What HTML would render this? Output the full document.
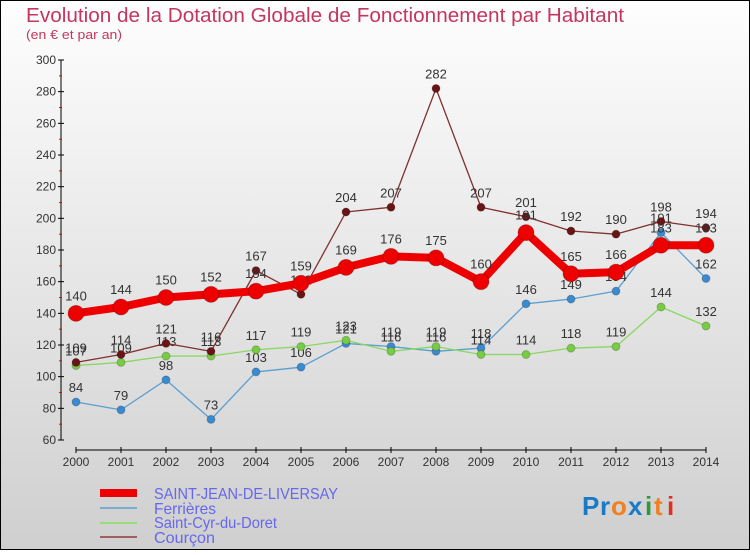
<!DOCTYPE html>
<html><head><meta charset="utf-8"><style>
html,body{margin:0;padding:0}
body{width:750px;height:550px;overflow:hidden;font-family:"Liberation Sans",sans-serif}
</style></head><body>
<svg id="c" width="750" height="550" xmlns="http://www.w3.org/2000/svg">
<defs><linearGradient id="bg" x1="0" y1="0" x2="0" y2="1"><stop offset="0" stop-color="#fefefe"/><stop offset="1" stop-color="#cfcfcf"/></linearGradient></defs>
<rect x="0.5" y="0.5" width="749" height="549" fill="url(#bg)" stroke="#000"/>
<text x="26" y="22" font-size="20" fill="#c4365e" textLength="598" lengthAdjust="spacingAndGlyphs">Evolution de la Dotation Globale de Fonctionnement par Habitant</text>
<text x="26" y="39" font-size="13" fill="#c4365e" textLength="96" lengthAdjust="spacingAndGlyphs">(en € et par an)</text>
<g id="axes"></g><g id="series"></g>
<g>
<rect x="100" y="489" width="37" height="8" fill="#e00"/>
<line x1="100" y1="508" x2="137" y2="508" stroke="#7aaed0" stroke-width="2"/>
<line x1="100" y1="523" x2="137" y2="523" stroke="#99dd77" stroke-width="2"/>
<line x1="100" y1="537" x2="137" y2="537" stroke="#a06060" stroke-width="2"/>
<g font-size="16" fill="#6666ee">
<text x="154" y="499" textLength="184" lengthAdjust="spacingAndGlyphs">SAINT-JEAN-DE-LIVERSAY</text>
<text x="154" y="514" textLength="62" lengthAdjust="spacingAndGlyphs">Ferrières</text>
<text x="154" y="528" textLength="123" lengthAdjust="spacingAndGlyphs">Saint-Cyr-du-Doret</text>
<text x="154" y="543" textLength="61" lengthAdjust="spacingAndGlyphs">Courçon</text>
</g></g>
<g font-size="26" font-weight="bold">
<text x="582" y="515" fill="#1a7ac8">P</text><text x="600" y="515" fill="#1a7ac8">r</text><text x="611" y="515" fill="#f08020">o</text><text x="628" y="515" fill="#1a7ac8">x</text><text x="645" y="515" fill="#2a9a3a">i</text><text x="654" y="515" fill="#f08020">t</text><text x="667" y="515" fill="#e03020">i</text>
</g>
</svg>
<script>
const years=[2000,2001,2002,2003,2004,2005,2006,2007,2008,2009,2010,2011,2012,2013,2014];
const yTicks=[60,80,100,120,140,160,180,200,220,240,260,280,300];
const sjValues=[140,144,150,152,154,159,169,176,175,160,191,165,166,183,183];
const ferValues=[84,79,98,73,103,106,121,119,116,118,146,149,154,191,162];
const cyrValues=[107,109,113,113,117,119,123,116,119,114,114,118,119,144,132];
const couValues=[109,114,121,116,167,152,204,207,282,207,201,192,190,198,194];
const NS="http://www.w3.org/2000/svg";
const xS=i=>76+i*45;
const yS=v=>60+(300-v)*380/240;
function mk(tag,attrs,parent){const e=document.createElementNS(NS,tag);for(const k in attrs)e.setAttribute(k,attrs[k]);parent.appendChild(e);return e;}
const ax=document.getElementById('axes');
let a=mk('line',{x1:61,y1:60,x2:61,y2:440,stroke:'#000'},ax);


a=mk('line',{x1:76,y1:450,x2:706,y2:450,stroke:'#000'},ax);


yTicks.forEach((t,i)=>{const y=yS(t);
 mk('line',{x1:58,y1:y,x2:64,y2:y,stroke:'#000'},ax);
 if(i<yTicks.length-1) mk('line',{x1:59,y1:y-15.8,x2:62,y2:y-15.8,stroke:'#e00'},ax);
 const tx=mk('text',{x:56,y:y+4,'font-size':12,'text-anchor':'end',fill:'#333'},ax);tx.textContent=t;
 
 
});
years.forEach((yr,i)=>{const x=xS(i);
 mk('line',{x1:x,y1:447,x2:x,y2:453,stroke:'#000'},ax);
 const tx=mk('text',{x:x,y:466,'font-size':12,'text-anchor':'middle',fill:'#333'},ax);tx.textContent=yr;
 
 
});
const sg=document.getElementById('series');
function draw(vals,color,w,r,name,fillc){
 const g=mk('g',{},sg);
 
 
 const p=mk('polyline',{points:vals.map((v,i)=>xS(i)+','+yS(v)).join(' '),fill:'none',stroke:color,'stroke-width':w,'stroke-linejoin':'round'},g);
 
 
 vals.forEach((v,i)=>{
  const c=mk('circle',{cx:xS(i),cy:yS(v),r:r,fill:fillc,stroke:'rgba(0,0,0,0.2)'},g);
  
  
  const t=mk('text',{x:xS(i),y:yS(v)-10-(r>4?3:0),'font-size':13,'text-anchor':'middle',fill:'#333'},g);t.textContent=v;
  
  
 });
}
draw(ferValues,'#5a9fd0',1.3,4,'ferrieres-series','#3a8ad0');
draw(cyrValues,'#88d860',1.3,4,'saint-cyr-series','#77cc44');
draw(couValues,'#803030',1.3,4,'courcon-series','#6a1515');
draw(sjValues,'#ee0000',8,8,'saint-jean-series','#ee0000');
</script>
</body></html>
